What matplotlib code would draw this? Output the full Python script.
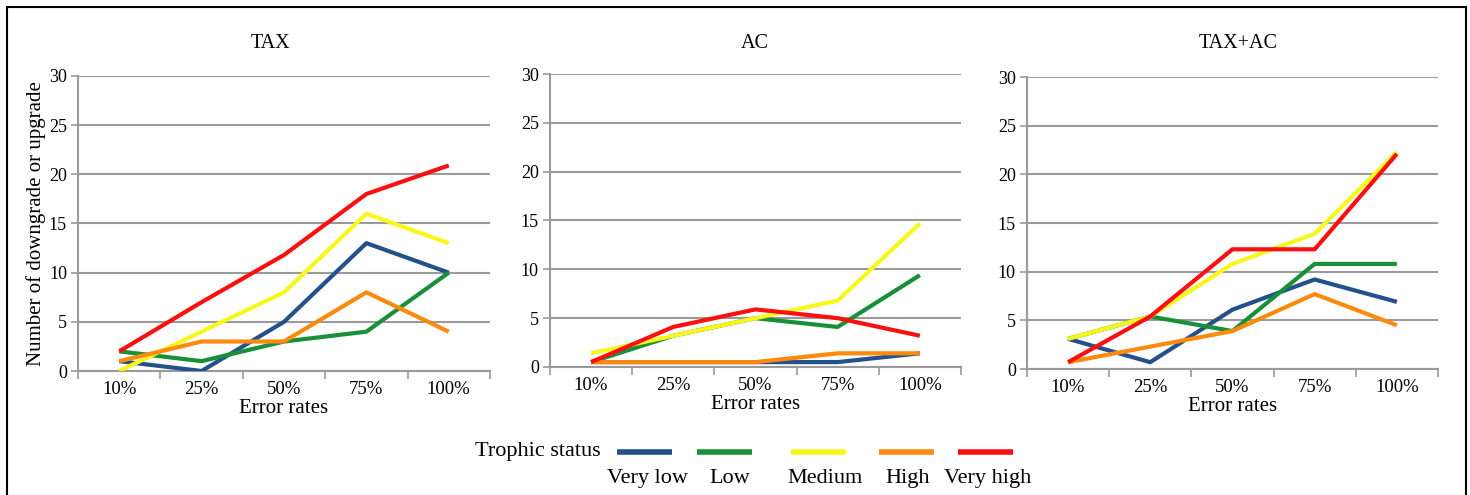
import matplotlib
matplotlib.use("Agg")
import matplotlib.pyplot as plt
from matplotlib.lines import Line2D
from matplotlib.patches import Rectangle

plt.rcParams['font.family'] = ['Liberation Serif', 'DejaVu Serif']

# data
error_rates = ['10%', '25%', '50%', '75%', '100%']
status_names = ['Very low', 'Low', 'Medium', 'High', 'Very high']
status_colors = ['#24508c', '#179039', '#f7f71c', '#fb8a0e', '#fb1010']

tax_very_low = [1, 0, 5, 13, 10]
tax_low = [2, 1, 3, 4, 10]
tax_medium = [0, 4, 8, 16, 13]
tax_high = [1, 3, 3, 8, 4]
tax_very_high = [2, 7, 11.8, 18, 20.9]

ac_very_low = [0.5, 0.5, 0.5, 0.5, 1.4]
ac_low = [0.5, 3.2, 5.0, 4.1, 9.4]
ac_medium = [1.4, 3.2, 5.0, 6.8, 14.7]
ac_high = [0.5, 0.5, 0.5, 1.4, 1.4]
ac_very_high = [0.5, 4.1, 5.9, 5.0, 3.2]

taxac_very_low = [3.1, 0.7, 6.1, 9.2, 6.9]
taxac_low = [3.1, 5.4, 3.9, 10.8, 10.8]
taxac_medium = [3.1, 5.4, 10.8, 13.9, 22.3]
taxac_high = [0.7, 2.3, 3.9, 7.7, 4.5]
taxac_very_high = [0.7, 5.4, 12.3, 12.3, 22.1]

panels = [
    ('TAX', [tax_very_low, tax_low, tax_medium, tax_high, tax_very_high]),
    ('AC', [ac_very_low, ac_low, ac_medium, ac_high, ac_very_high]),
    ('TAX+AC', [taxac_very_low, taxac_low, taxac_medium, taxac_high, taxac_very_high]),
]

fig = plt.figure(figsize=(14.7, 4.95), dpi=100)

# axes boxes in figure fractions [left, bottom, width, height]
boxes = [
    [0.0531, 0.2505, 0.2802, 0.5960],
    [0.3741, 0.2586, 0.2796, 0.5919],
    [0.6986, 0.2545, 0.2796, 0.5899],
]
title_x = [0.1837, 0.5136, 0.8422]

grid_col = '#9a9a9a'
x = list(range(len(error_rates)))

for i, ((title, series), box) in enumerate(zip(panels, boxes)):
    ax = fig.add_axes(box)
    for vals, col in zip(series, status_colors):
        ax.plot(x, vals, color=col, linewidth=3, solid_capstyle='butt', zorder=3)
    ax.set_xlim(-0.5, len(error_rates) - 0.5)
    ax.set_ylim(0, 30)
    ax.set_yticks(range(0, 31, 5))
    ax.yaxis.grid(True, color=grid_col, linewidth=1.5)
    ax.set_axisbelow(True)
    ax.set_xticks(x)
    ax.set_xticklabels(error_rates, fontsize=13.5)
    ax.set_xticks([v - 0.5 for v in range(len(error_rates) + 1)], minor=True)
    ax.tick_params(axis='x', which='major', length=0, pad=7)
    ax.tick_params(axis='x', which='minor', length=6, width=1.2, color=grid_col, direction='out')
    ax.tick_params(axis='y', length=5, width=1.2, color=grid_col, labelsize=13, pad=3)
    for s in ['top', 'right']:
        ax.spines[s].set_visible(False)
    for s in ['left', 'bottom']:
        ax.spines[s].set_color(grid_col)
        ax.spines[s].set_linewidth(1.5)
    fig.text(title_x[i], 0.913, title, fontsize=14.5, ha='center', va='center')
    ax.set_xlabel('Error rates', fontsize=15, labelpad=1)
    if i == 0:
        ax.set_ylabel('Number of downgrade or upgrade', fontsize=15, labelpad=2)

# legend drawn by hand: samples on one row, names underneath
fig.text(0.323, 0.087, 'Trophic status', fontsize=16, ha='left', va='center')
sample_x = [0.4197, 0.4741, 0.5381, 0.5980, 0.6517]
name_x = [0.4408, 0.4966, 0.5612, 0.6177, 0.6721]
for sx, nx, name, col in zip(sample_x, name_x, status_names, status_colors):
    fig.add_artist(Line2D([sx, sx + 0.0376], [0.087, 0.087], transform=fig.transFigure,
                          color=col, linewidth=4, solid_capstyle='butt'))
    fig.text(nx, 0.033, name, fontsize=16, ha='center', va='center')

# outer frame
fig.add_artist(Rectangle((0.005, -0.05), 0.9925, 1.036, transform=fig.transFigure,
                         fill=False, edgecolor='black', linewidth=1.5))

fig.savefig('out.png', dpi=100)
